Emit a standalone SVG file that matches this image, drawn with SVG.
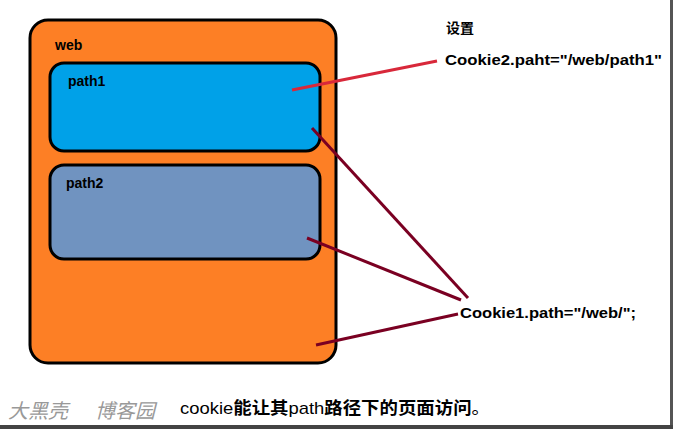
<svg xmlns="http://www.w3.org/2000/svg" width="676" height="436" viewBox="0 0 676 436">
<style>
.b{font-family:"Liberation Sans","Noto Sans CJK SC",sans-serif;font-weight:bold;fill:#000}
.box{stroke:#000;stroke-width:3}
</style>
<rect width="676" height="436" fill="#fff"/>
<rect x="670" y="0" width="3" height="428" fill="#555"/>
<rect x="0" y="425" width="673" height="4" fill="#444"/>
<g id="web"><rect class="box" x="30" y="20" width="306" height="343" rx="18" fill="#fd7f25"/><text class="b" x="55" y="50" font-size="14">web</text></g>
<g id="path1"><rect class="box" x="50" y="63" width="270" height="88" rx="14" fill="#00a1e8"/><text class="b" x="68" y="86" font-size="14">path1</text></g>
<g id="path2"><rect class="box" x="50" y="165" width="270" height="94" rx="14" fill="#7093c0"/><text class="b" x="66" y="188" font-size="14">path2</text></g>
<g id="connectors" stroke-width="3">
<line x1="292" y1="90" x2="437" y2="61" stroke="#d8283a"/>
<line x1="312" y1="128" x2="468" y2="298" stroke="#7a0022"/>
<line x1="307" y1="238" x2="461" y2="300" stroke="#7a0022"/>
<line x1="316" y1="345" x2="458" y2="314" stroke="#7a0022"/>
</g>
<g id="labels">
<text class="b" x="446" y="33" font-size="14">设置</text>
<text class="b" x="445" y="65" font-size="15" textLength="217" lengthAdjust="spacingAndGlyphs">Cookie2.paht="/web/path1"</text>
<text class="b" x="460" y="318" font-size="15" textLength="176" lengthAdjust="spacingAndGlyphs">Cookie1.path="/web/";</text>
<text x="8" y="418" font-size="20" font-style="italic" fill="#999" font-family="Noto Sans CJK SC,sans-serif">大黑壳</text>
<text x="95" y="418" font-size="20" font-style="italic" fill="#999" font-family="Noto Sans CJK SC,sans-serif">博客园</text>
<text x="180" y="414" font-size="17" font-family="Liberation Sans,Noto Sans CJK SC,sans-serif" textLength="310" lengthAdjust="spacingAndGlyphs">cookie<tspan font-weight="bold">能让其</tspan>path<tspan font-weight="bold">路径下的页面访问</tspan>。</text>
</g>
</svg>
